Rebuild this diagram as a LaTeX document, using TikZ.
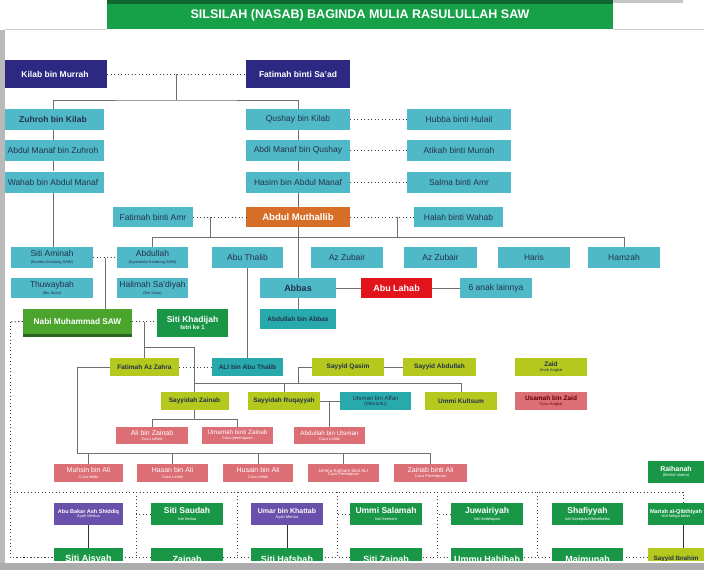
\documentclass[tikz,border=0pt]{standalone}
\usepackage{fontspec}
\setmainfont{Liberation Sans}
\usetikzlibrary{calc}

\definecolor{bannerC}{RGB}{22,160,72}
\definecolor{bannerD}{RGB}{14,104,46}
\definecolor{navyC}{RGB}{45,40,130}
\definecolor{tealC}{RGB}{80,185,200}
\definecolor{tealD}{RGB}{40,170,172}
\definecolor{orangeC}{RGB}{215,110,40}
\definecolor{redC}{RGB}{225,20,28}
\definecolor{nabiC}{RGB}{75,165,45}
\definecolor{nabiD}{RGB}{40,100,30}
\definecolor{greenC}{RGB}{25,150,70}
\definecolor{limeC}{RGB}{180,200,30}
\definecolor{pinkC}{RGB}{220,110,118}
\definecolor{purpleC}{RGB}{105,80,170}
\definecolor{inkC}{RGB}{35,50,75}
\definecolor{linkC}{RGB}{110,110,115}

\newcommand{\fsz}[1]{\fontsize{#1}{#1}\selectfont}
\newcommand{\subl}[1]{\\[-1.5pt]{\fsz{4}\mdseries #1}}

\begin{document}
\begin{tikzpicture}[x=1pt, y=-1pt,
  box/.style={rectangle, inner sep=1pt, align=center},
  tealbox/.style={box, fill=tealC, text=inkC, font=\fsz{8.5}},
  navybox/.style={box, fill=navyC, text=white, font=\bfseries\fsz{8.5}},
  darktealbox/.style={box, fill=tealD, text=inkC, font=\bfseries\fsz{6.5}},
  limebox/.style={box, fill=limeC, text=inkC, font=\bfseries\fsz{6.5}},
  pinkbox/.style={box, fill=pinkC, text=white, font=\fsz{7}},
  greenbox/.style={box, fill=greenC, text=white, font=\bfseries\fsz{8.5}},
  purplebox/.style={box, fill=purpleC, text=white, font=\bfseries\fsz{6.5}},
  wide/.style={minimum width=104pt, minimum height=21pt},
  mid/.style={minimum width=72pt, minimum height=21pt},
  low/.style={minimum width=72pt, minimum height=18pt},
  link/.style={draw=linkC, line width=0.9pt},
  wed/.style={draw=black!75, line width=0.9pt, dash pattern=on 1.2pt off 2.3pt}]

  \clip (0,0) rectangle (704,570);
  \fill[white] (0,0) rectangle (704,570);

  % title banner
  \fill[bannerD] (107,0) rectangle (613,4);
  \fill[bannerC] (107,4) rectangle (613,29);
  \draw[gray!40, line width=1pt] (5,29.5) -- (107,29.5) (613,29.5) -- (704,29.5);
  \fill[gray!45] (613,0) rectangle (683,2.5);
  \node[text=white, font=\bfseries\fsz{12.5}] (title) at (360,15) {SILSILAH (NASAB) BAGINDA MULIA RASULULLAH SAW};

  % frame of the wives
  \coordinate (frameNW) at (10,322);
  \coordinate (frameSW) at (10,557);
  \coordinate (frameNE) at (683,492);
  \draw[wed] (frameNW) -- (frameSW) -- (648,557);
  \draw[wed] (10,492) -- (frameNE) -- (683,503);
  \foreach \x [count=\i] in {136,237,337,437,537} {
    \coordinate (div\i) at (\x,492);
    \draw[wed] (div\i) -- (\x,557);
  }

  % Kilab and Qushay
  \node[navybox, minimum width=104pt, minimum height=28pt] (kilab) at (55,74) {Kilab bin Murrah};
  \node[navybox, minimum width=104pt, minimum height=28pt] (fatimahS) at (298,74) {Fatimah binti Sa'ad};

  \node[tealbox, wide, minimum width=102pt, font=\bfseries\fsz{8.5}] (zuhroh) at (53,119.5) {Zuhroh bin Kilab};
  \node[tealbox, wide, minimum width=102pt] (abdulmanaf) at (53,150.5) {Abdul Manaf bin Zuhroh};
  \node[tealbox, wide, minimum width=102pt] (wahab) at (53,182) {Wahab bin Abdul Manaf};
  \node[tealbox, wide] (qushay) at (298,119.5) {Qushay bin Kilab};
  \node[tealbox, wide] (abdimanaf) at (298,150.5) {Abdi Manaf bin Qushay};
  \node[tealbox, wide] (hasim) at (298,182) {Hasim bin Abdul Manaf};
  \node[tealbox, wide] (hubba) at (459,119.5) {Hubba binti Hulail};
  \node[tealbox, wide] (atikah) at (459,150.5) {Atikah binti Murrah};
  \node[tealbox, wide] (salma) at (459,182) {Salma binti Amr};

  % Abdul Muthallib
  \node[tealbox, minimum width=80pt, minimum height=20pt] (fatimahA) at (153,217) {Fatimah binti Amr};
  \node[box, fill=orangeC, text=white, font=\bfseries\fsz{9.5}, minimum width=104pt, minimum height=20pt] (muthallib) at (298,217) {Abdul Muthallib};
  \node[tealbox, minimum width=89pt, minimum height=20pt] (halah) at (458.5,217) {Halah binti Wahab};

  \node[tealbox, mid, minimum width=82pt] (aminah) at (52,257.5) {Siti Aminah\subl{(Ibunda Kandung SAW)}};
  \node[tealbox, mid, minimum width=71pt] (abdullah) at (152.5,257.5) {Abdullah\subl{(Ayahanda Kandung SAW)}};
  \node[tealbox, mid, minimum width=71pt] (abuthalib) at (247.5,257.5) {Abu Thalib};
  \node[tealbox, mid] (zubairA) at (347,257.5) {Az Zubair};
  \node[tealbox, mid, minimum width=73pt] (zubairB) at (440.5,257.5) {Az Zubair};
  \node[tealbox, mid] (haris) at (534,257.5) {Haris};
  \node[tealbox, mid] (hamzah) at (624,257.5) {Hamzah};

  \node[tealbox, mid, minimum width=82pt, minimum height=20pt] (thuwaybah) at (52,288) {Thuwaybah\subl{(Ibu Susu)}};
  \node[tealbox, mid, minimum width=71pt, minimum height=20pt] (halimah) at (152.5,288) {Halimah Sa'diyah\subl{(Ibu Susu)}};
  \node[tealbox, mid, minimum width=76pt, minimum height=20pt, font=\bfseries\fsz{9}] (abbas) at (298,288) {Abbas};
  \node[box, fill=redC, text=white, font=\bfseries\fsz{9}, minimum width=71pt, minimum height=20pt] (abulahab) at (396.5,288) {Abu Lahab};
  \node[tealbox, mid, minimum height=20pt] (lainnya) at (496,288) {6 anak lainnya};
  \node[darktealbox, minimum width=76pt, minimum height=20pt] (abdullahAbbas) at (298,319) {Abdullah bin Abbas};

  % Nabi and Khadijah
  \fill[nabiD] (23,331) rectangle (132,337);
  \node[box, fill=nabiC, text=white, font=\bfseries\fsz{8.3}, minimum width=109pt, minimum height=25pt] (nabi) at (77.5,321.5) {Nabi Muhammad SAW};
  \node[greenbox, minimum width=71pt, minimum height=28pt] (khadijah) at (192.5,323) {Siti Khadijah\\[-1pt]{\fsz{6}Istri ke 1}};

  % children
  \node[limebox, low, minimum width=69pt] (fatimahZ) at (144.5,367) {Fatimah Az Zahra};
  \node[darktealbox, low, minimum width=71pt] (ali) at (247.5,367) {ALI bin Abu Thalib};
  \node[limebox, low] (qasim) at (348,367) {Sayyid Qasim};
  \node[limebox, low, minimum width=73pt] (sabdullah) at (439.5,367) {Sayyid Abdullah};
  \node[limebox, low] (zaid) at (551,367) {Zaid\subl{Anak Angkat}};

  \node[limebox, low, minimum width=68pt] (zainabS) at (194.5,401) {Sayyidah Zainab};
  \node[limebox, low] (ruqayyah) at (284,401) {Sayyidah Ruqayyah};
  \node[darktealbox, low, minimum width=71pt, font=\fsz{6}] (utsman) at (375.5,401) {Utsman bin Affan\\[-1pt]{\fsz{5}(Menantu)}};
  \node[limebox, low] (kultsum) at (461,401) {Ummi Kultsum};
  \node[pinkbox, low, text=red!40!black, font=\bfseries\fsz{6.5}] (usamah) at (551,401) {Usamah bin Zaid\subl{Cucu Angkat}};

  % grandchildren
  \node[pinkbox, low, minimum height=17pt] (alibz) at (152,435.5) {Ali bin Zainab\subl{Cucu Lelaki}};
  \node[pinkbox, low, minimum width=71pt, minimum height=17pt, font=\fsz{6.3}] (umamah) at (237.5,435.5) {Umamah binti Zainab\subl{Cucu perempuan}};
  \node[pinkbox, low, minimum width=71pt, minimum height=17pt, font=\fsz{6.3}] (abdullahU) at (329.5,435.5) {Abdullah bin Utsman\subl{Cucu Lelaki}};

  \node[pinkbox, low, minimum width=69pt] (muhsin) at (88.5,473) {Muhsin bin Ali\subl{Cucu lelaki}};
  \node[pinkbox, low, minimum width=71pt] (hasan) at (172.5,473) {Hasan bin Ali\subl{Cucu Lelaki}};
  \node[pinkbox, low, minimum width=70pt] (husain) at (258,473) {Husain bin Ali\subl{Cucu lelaki}};
  \node[pinkbox, low, minimum width=71pt, font=\fsz{4.6}] (ukultsum) at (343.5,473) {Ummu Kultsum binti ALI\subl{Cucu Perempuan}};
  \node[pinkbox, low, minimum width=73pt] (zainabA) at (430.5,473) {Zainab binti Ali\subl{Cucu Perempuan}};
  \node[greenbox, minimum width=56pt, minimum height=22pt, font=\bfseries\fsz{7}] (raihanah) at (676,472) {Raihanah\subl{(Ikhtilaf ulama)}};

  % the other wives
  \node[purplebox, minimum width=69pt, minimum height=22pt, font=\bfseries\fsz{5.5}] (abubakar) at (88.5,514) {Abu Bakar Ash Shiddiq\subl{Ayah Mertua}};
  \node[greenbox, minimum width=72pt, minimum height=22pt] (saudah) at (187,514) {Siti Saudah\subl{Istri kedua}};
  \node[purplebox, minimum width=72pt, minimum height=22pt, font=\bfseries\fsz{7}] (umar) at (287,514) {Umar bin Khattab\subl{Ayah Mertua}};
  \node[greenbox, minimum width=72pt, minimum height=22pt] (salamah) at (386,514) {Ummi Salamah\subl{Istri keenam}};
  \node[greenbox, minimum width=72pt, minimum height=22pt] (juwairiyah) at (487,514) {Juwairiyah\subl{Istri kedelapan}};
  \node[greenbox, minimum width=71pt, minimum height=22pt] (shafiyyah) at (587.5,514) {Shafiyyah\subl{Istri kesepuluh/kesebelas}};
  \node[greenbox, minimum width=56pt, minimum height=22pt, font=\bfseries\fsz{5.6}] (mariah) at (676,514) {Mariah al-Qibthiyah\subl{Istri ketiga belas}};

  \node[greenbox, minimum width=69pt, minimum height=22pt, font=\bfseries\fsz{9}] (aisyah) at (88.5,559) {Siti Aisyah};
  \node[greenbox, minimum width=72pt, minimum height=22pt, font=\bfseries\fsz{9}] (zainabB) at (187,559) {Zainab};
  \node[greenbox, minimum width=72pt, minimum height=22pt, font=\bfseries\fsz{9}] (hafshah) at (287,559) {Siti Hafshah};
  \node[greenbox, minimum width=72pt, minimum height=22pt, font=\bfseries\fsz{9}] (szainab) at (386,559) {Siti Zainab};
  \node[greenbox, minimum width=72pt, minimum height=22pt, font=\bfseries\fsz{9}] (habibah) at (487,559) {Ummu Habibah};
  \node[greenbox, minimum width=71pt, minimum height=22pt, font=\bfseries\fsz{9}] (maimunah) at (587.5,559) {Maimunah};
  \node[limebox, minimum width=56pt, minimum height=22pt, font=\bfseries\fsz{6.3}] (ibrahim) at (676,559) {Sayyid Ibrahim};

  % connectors: ancestors
  \draw[wed] (kilab) -- (fatimahS);
  \coordinate (kf) at ($(kilab.east)!0.5!(fatimahS.west)$);
  \draw[link] (kf) -- ++(0,26) coordinate (kfk);
  \draw[link] (zuhroh.north) |- (kfk) -| (qushay.north);
  \draw[link] (zuhroh) -- (abdulmanaf);
  \draw[link] (abdulmanaf) -- (wahab);
  \draw[link] (wahab.south) -- (wahab.south |- aminah.north);
  \draw[link] (qushay) -- (abdimanaf);
  \draw[link] (abdimanaf) -- (hasim);
  \draw[link] (hasim) -- (muthallib);
  \draw[wed] (qushay) -- (hubba);
  \draw[wed] (abdimanaf) -- (atikah);
  \draw[wed] (hasim) -- (salma);

  % Abdul Muthallib's sons
  \draw[wed] (fatimahA) -- (muthallib);
  \draw[wed] (muthallib) -- (halah);
  \coordinate (wa) at ($(fatimahA.east)!0.32!(muthallib.west)$);
  \coordinate (wb) at ($(muthallib.east)!0.75!(halah.west)$);
  \coordinate (sons) at (0,237);
  \draw[link] (wa) -- (wa |- sons);
  \draw[link] (wb) -- (wb |- sons);
  \draw[link] (abdullah.north) |- (hamzah.north |- sons) -- (hamzah.north);
  \draw[link] (muthallib) -- (abbas);
  \draw[link] (abbas) -- (abulahab);
  \draw[link] (abulahab) -- (lainnya);
  \draw[link] (abbas) -- (abdullahAbbas);

  % parents of the Prophet
  \draw[wed] (aminah) -- (abdullah);
  \coordinate (ap) at ($(aminah.east)!0.5!(abdullah.west)$);
  \draw[link] (ap) -- (ap |- nabi.north);

  % Nabi and Khadijah's children
  \draw[wed] (nabi.east) -- (nabi.east -| khadijah.west);
  \coordinate (nk) at ($(nabi.east)!0.48!(nabi.east -| khadijah.west)$);
  \draw[link] (nk) -- (nk |- fatimahZ.north);
  \draw[link] (nk |- 0,347) -| (zainabS.north);
  \coordinate (kids) at (298,383);
  \draw[link] (zainabS.north |- kids) -| (kultsum.north);
  \draw[link] (ruqayyah.north) -- (ruqayyah.north |- kids);
  \draw[link] (qasim.west) -| (kids);
  \draw[link] (qasim) -- (sabdullah);
  \draw[wed] (fatimahZ) -- (ali);
  \draw[link] (abuthalib) -- (ali);
  \draw[link] (ruqayyah) -- (utsman);
  \coordinate (ru) at ($(ruqayyah.east)!0.45!(utsman.west)$);
  \draw[link] (ru) -- (ru |- abdullahU.north);
  \draw[link] (zainabS.south) -- ++(0,9) coordinate (zk);
  \draw[link] (alibz.north) |- (zk) -| (umamah.north);

  % Fatimah's children
  \coordinate (fk) at (77,453);
  \draw[link] (fatimahZ.west) -| (fk) -| (zainabA.north);
  \foreach \c in {muhsin,hasan,husain,ukultsum}
    \draw[link] (\c.north) -- (\c.north |- fk);

  % the other wives
  \draw[wed] (nabi.west) -- (frameNW);
  \draw[wed] (saudah.west) -- (saudah.west -| div1);
  \draw[wed] (salamah.west) -- (salamah.west -| div3);
  \draw[wed] (juwairiyah.west) -- (juwairiyah.west -| div4);
  \draw[link, draw=black!80] (abubakar) -- (aisyah);
  \draw[link, draw=black!80] (umar) -- (hafshah);
  \draw[link, draw=black!80] (mariah.south -| frameNE) -- (ibrahim.north -| frameNE);

  % screen edges
  \fill[gray!55] (0,30) rectangle (5,570);
  \fill[white] (5,561) rectangle (704,563);
  \fill[gray!65] (0,563) rectangle (704,570);
\end{tikzpicture}
\end{document}
